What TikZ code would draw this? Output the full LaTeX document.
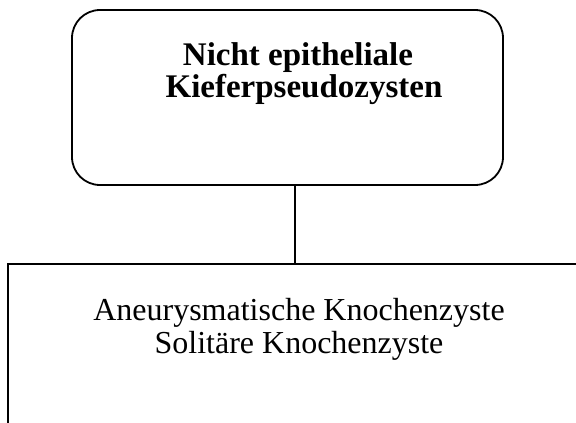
\documentclass[tikz,border=0pt]{standalone}
\usepackage{fontspec}
\setmainfont{Liberation Serif}
\begin{document}
\begin{tikzpicture}[x=1pt,y=-1pt,
  boxline/.style={draw=black,line width=1.8pt},
  headtext/.style={anchor=base,inner sep=0pt,font=\fontsize{33}{34}\selectfont\bfseries},
  itemtext/.style={anchor=base,inner sep=0pt,font=\fontsize{32}{33}\selectfont}]
  \clip (0,0) rectangle (576,423);
  % group heading box
  \node[boxline,rounded corners=28pt,minimum width=431pt,minimum height=175pt,inner sep=0pt]
    (top) at (287.5,97.5) {};
  \node[headtext] (t1) at (298,65) {Nicht epitheliale};
  \node[headtext] (t2) at (304,97) {Kieferpseudozysten};
  % member box, running past the page edge
  \node[boxline,minimum width=574pt,minimum height=176pt,inner sep=0pt]
    (bottom) at (295,352) {};
  \node[itemtext] (b1) at (299,320) {Aneurysmatische Knochenzyste};
  \node[itemtext] (b2) at (299,353) {Solitäre Knochenzyste};
  % connector
  \draw[line width=1.8pt] (bottom.north) -- (bottom.north |- top.south);
\end{tikzpicture}
\end{document}
